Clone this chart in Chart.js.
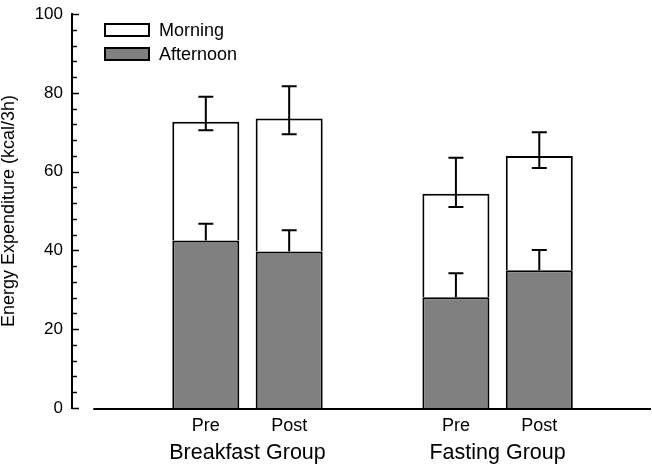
<!DOCTYPE html>
<html>
<head>
<meta charset="utf-8">
<script src="https://cdn.jsdelivr.net/npm/chart.js@4.4.1/dist/chart.umd.min.js"></script>
<style>
  html, body { margin: 0; padding: 0; background: #ffffff; }
  #wrap { width: 652px; height: 466px; }
</style>
</head>
<body>
<div id="wrap"><canvas id="c" width="652" height="466"></canvas></div>
<script>
// ---- data ----
const groups = ['Breakfast Group', 'Fasting Group'];
const phases = ['Pre', 'Post'];
const seriesNames = ['Afternoon', 'Morning'];
const afternoon = [42.5, 39.7, 28.1, 35.0];          // lower (grey) segment
const morning = [30.2, 33.8, 26.3, 29.0];            // upper (white) segment
const afternoonErrHigh = [46.8, 45.1, 34.2, 40.1];   // top of afternoon whisker
const totalErrHigh = [79.0, 81.7, 63.5, 70.0];       // top of total whisker
const totalErrLow = [70.5, 69.5, 51.0, 60.9];        // bottom of total whisker
const yTickLabels = [0, 20, 40, 60, 80, 100];
const yTitle = 'Energy Expenditure (kcal/3h)';

// ---- slots: each group has two bars, one empty slot between groups ----
const slots = [];
groups.forEach((g, gi) => phases.forEach((p, pi) => slots.push({ x: gi * 3 + pi + 1, label: p })));
const groupCenters = groups.map((g, gi) => ({ value: gi * 3 + 1.5, label: g }));

const FONT = '"Liberation Sans", Arial, sans-serif';
const X_MIN = -0.605, X_MAX = 6.328;

const errorBars = {
  id: 'errorBars',
  afterDatasetsDraw(chart) {
    const ctx = chart.ctx, y = chart.scales.y;
    const meta = chart.getDatasetMeta(0);
    ctx.save();
    ctx.strokeStyle = '#000';
    ctx.lineWidth = 2;
    const cap = 7.5;
    meta.data.forEach((bar, i) => {
      const x = bar.x;
      const a0 = y.getPixelForValue(afternoon[i]);
      const a1 = y.getPixelForValue(afternoonErrHigh[i]);
      ctx.beginPath();
      ctx.moveTo(x, a0); ctx.lineTo(x, a1);
      ctx.moveTo(x - cap, a1); ctx.lineTo(x + cap, a1);
      ctx.stroke();
      const t0 = y.getPixelForValue(totalErrLow[i]);
      const t1 = y.getPixelForValue(totalErrHigh[i]);
      ctx.beginPath();
      ctx.moveTo(x, t0); ctx.lineTo(x, t1);
      ctx.moveTo(x - cap, t1); ctx.lineTo(x + cap, t1);
      ctx.moveTo(x - cap, t0); ctx.lineTo(x + cap, t0);
      ctx.stroke();
    });
    ctx.restore();
  }
};

const axesDecor = {
  id: 'axesDecor',
  afterDraw(chart) {
    const ctx = chart.ctx, y = chart.scales.y, x = chart.scales.x;
    const area = chart.chartArea;
    ctx.save();
    ctx.strokeStyle = '#000';
    y.ticks.forEach(t => {
      const py = Math.round(y.getPixelForValue(t.value)) + 0.5;
      const major = yTickLabels.includes(t.value);
      ctx.lineWidth = 1.5;
      ctx.beginPath();
      ctx.moveTo(area.left, py);
      ctx.lineTo(area.left + (major ? 7 : 5), py);
      ctx.stroke();
    });
    ctx.fillStyle = '#000';
    const xs = x.getPixelForValue(-0.35);
    ctx.fillRect(xs, area.bottom, area.right + 1 - xs, 2);
    ctx.restore();
  }
};

const boxLegend = {
  id: 'boxLegend',
  afterDraw(chart) {
    const ctx = chart.ctx;
    const ds = chart.data.datasets.slice().reverse();
    ctx.save();
    ctx.font = '18px ' + FONT;
    ctx.textBaseline = 'middle';
    ctx.textAlign = 'left';
    ds.forEach((d, i) => {
      const top = 24 + i * 24;
      ctx.fillStyle = d.backgroundColor;
      ctx.fillRect(105, top, 44, 12);
      ctx.strokeStyle = '#000';
      ctx.lineWidth = 2;
      ctx.strokeRect(105, top, 44, 12);
      ctx.fillStyle = '#000';
      ctx.fillText(d.label, 159, top + 7);
    });
    ctx.restore();
  }
};

new Chart(document.getElementById('c'), {
  type: 'bar',
  data: {
    datasets: [
      {
        label: seriesNames[0],
        data: afternoon.map((v, i) => ({ x: slots[i].x, y: v })),
        backgroundColor: '#808080',
        borderColor: '#000000',
        borderWidth: 2,
        xAxisID: 'x', yAxisID: 'y'
      },
      {
        label: seriesNames[1],
        data: morning.map((v, i) => ({ x: slots[i].x, y: v })),
        backgroundColor: '#ffffff',
        borderColor: '#000000',
        borderWidth: 2,
        xAxisID: 'x', yAxisID: 'y'
      }
    ]
  },
  options: {
    responsive: false,
    animation: false,
    devicePixelRatio: 1,
    barPercentage: 0.804,
    categoryPercentage: 1.0,
    layout: { padding: { top: 7, right: 2, bottom: 0, left: 0 } },
    plugins: {
      legend: { display: false },
      tooltip: { enabled: false }
    },
    scales: {
      x: {
        type: 'linear',
        position: 'bottom',
        stacked: true,
        offset: false,
        min: X_MIN, max: X_MAX,
        weight: 0,
        grid: { display: false, drawTicks: false, offset: false },
        border: { display: false },
        afterBuildTicks: s => { s.ticks = slots.map(sl => ({ value: sl.x })); },
        afterFit: s => { s.height = 30; },
        ticks: {
          autoSkip: false, maxRotation: 0, padding: 9,
          color: '#000',
          font: { family: FONT, size: 18, lineHeight: 1 },
          callback: v => { const sl = slots.find(q => q.x === v); return sl ? sl.label : ''; }
        }
      },
      x2: {
        type: 'linear',
        position: 'bottom',
        offset: false,
        min: X_MIN, max: X_MAX,
        weight: 1,
        grid: { display: false, drawTicks: false, offset: false },
        border: { display: false },
        afterBuildTicks: s => { s.ticks = groupCenters.map(g => ({ value: g.value })); },
        afterFit: s => { s.height = 28; },
        ticks: {
          autoSkip: false, maxRotation: 0, padding: 4.75,
          color: '#000',
          font: { family: FONT, size: 21.5, lineHeight: 1 },
          callback: v => { const g = groupCenters.find(q => q.value === v); return g ? g.label : ''; }
        }
      },
      y: {
        type: 'linear',
        stacked: true,
        min: 0, max: 100,
        grid: { display: false, drawTicks: false },
        border: { display: true, color: '#000', width: 2 },
        afterFit: s => { s.width = 72; },
        title: {
          display: true, text: yTitle, color: '#000',
          font: { family: FONT, size: 18, lineHeight: 1 },
          padding: 0
        },
        ticks: {
          stepSize: 4, autoSkip: false, padding: 9,
          color: '#000',
          font: { family: FONT, size: 17, lineHeight: 0.6 },
          callback: v => (yTickLabels.includes(v) ? String(v) : '')
        }
      }
    }
  },
  plugins: [errorBars, axesDecor, boxLegend]
});
</script>
</body>
</html>
